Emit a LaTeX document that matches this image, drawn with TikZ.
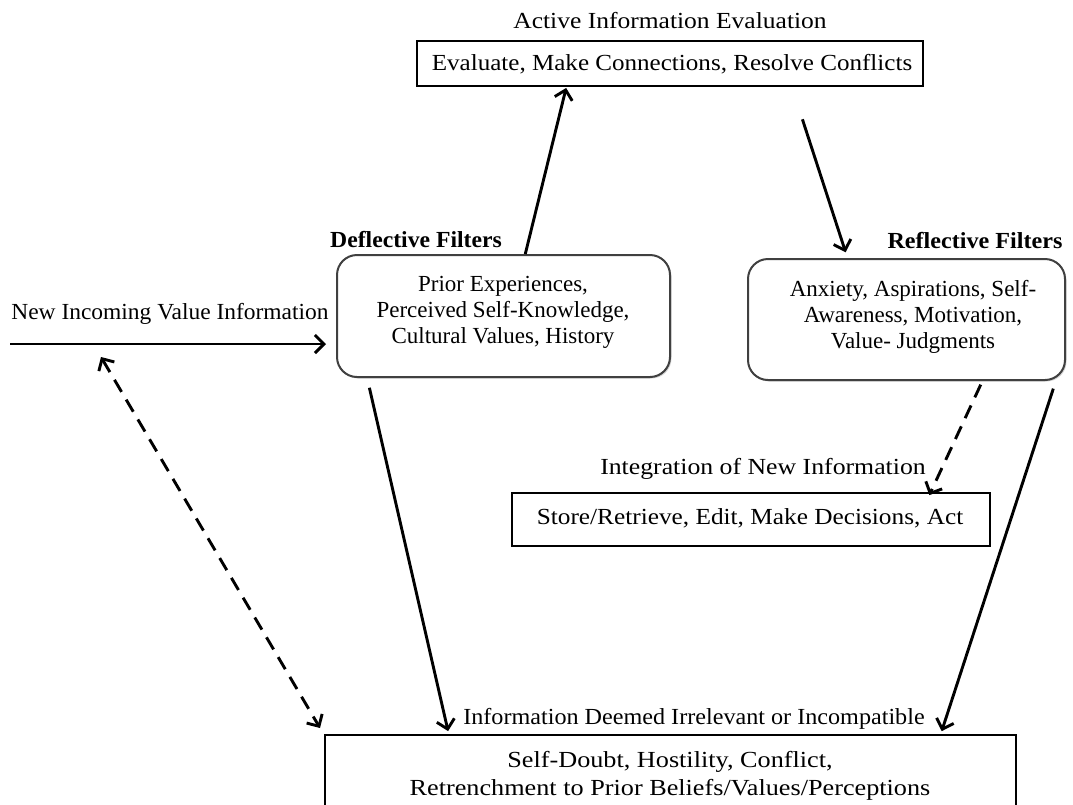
\documentclass[tikz,border=0pt]{standalone}
\usepackage{fontspec}
\usepackage{graphicx}
\setmainfont{Liberation Serif}
\usetikzlibrary{arrows.meta,calc,shadows}
\newcommand{\sx}[2]{\scalebox{#1}[1]{#2}}
\newcommand{\lines}[1]{\begin{tabular}{@{}c@{}}#1\end{tabular}}
\begin{document}
\begin{tikzpicture}[x=1pt,y=-1pt,
  every node/.style={font=\fontsize{23}{26}\selectfont, inner sep=0pt},
  box/.style={draw, line width=2pt},
  rbox/.style={draw=black!75, line width=2pt, rounded corners=20pt, fill=white,
    drop shadow={opacity=0.35, shadow xshift=1.5pt, shadow yshift=-1.5pt}},
  blab/.style={font=\fontsize{23}{26}\selectfont\bfseries},
  tip/.style={-{Straight Barb[length=9pt,width=18pt,line width=2.9pt]}},
  conn/.style={line width=2.9pt, tip},
  dconn/.style={line width=2.9pt, dash pattern=on 14pt off 9pt},
]
\useasboundingbox (0,0) rectangle (1073,804);

% top
\node (toplab) at (670,21) {\sx{1.11}{Active Information Evaluation}};
\node[box, minimum width=506pt, minimum height=45pt] (top) at (670,63.5) {};
\node (toptxt) at (672,64) {\sx{1.09}{Evaluate, Make Connections, Resolve Conflicts}};

% deflective
\node[blab] (deflab) at (416,240) {\sx{1.03}{Deflective Filters}};
\node[rbox, minimum width=333pt, minimum height=122pt] (defl) at (503.5,316) {};
\node (defltxt) at (503,312) {\lines{Prior Experiences,\\Perceived Self-Knowledge,\\Cultural Values, History}};

% reflective
\node[blab] (reflab) at (975,241) {\sx{1.05}{Reflective Filters}};
\node[rbox, minimum width=317pt, minimum height=121pt] (refl) at (906.5,319.5) {};
\node (refltxt) at (913,317) {\lines{Anxiety, Aspirations, Self-\\Awareness, Motivation,\\Value- Judgments}};

% incoming
\node (newlab) at (170,314) {\sx{1.02}{New Incoming Value Information}};
\coordinate (inc) at (10,344);
\coordinate (dtip) at (101,357);

% integration
\node (intlab) at (763,469) {\sx{1.12}{Integration of New Information}};
\node[box, minimum width=478pt, minimum height=53pt] (store) at (751,519) {};
\node (storetxt) at (750,518) {\sx{1.10}{Store/Retrieve, Edit, Make Decisions, Act}};

% bottom
\node (irrlab) at (694,719) {\sx{1.05}{Information Deemed Irrelevant or Incompatible}};
\node[box, minimum width=691pt, minimum height=95pt] (bot) at (670.5,782.5) {};
\node[font=\fontsize{23}{28}\selectfont] (bottxt) at (670,776) {\sx{1.14}{\lines{Self-Doubt, Hostility, Conflict,\\Retrenchment to Prior Beliefs/Values/Perceptions}}};

% connectors
\draw[conn, shorten >=10pt] (inc) -- (inc -| defl.west);
\draw[conn, shorten >=1pt] ($(defl.north west)!0.565!(defl.north east)$) -- ($(top.south west)!0.296!(top.south east)$);
\draw[conn, shorten <=34pt, shorten >=6pt] ($(top.south west)!0.74!(top.south east)$) -- ($(refl.north west)!0.315!(refl.north east)$);
\draw[dconn, tip, shorten <=4pt, shorten >=-4pt] ($(refl.south west)!0.738!(refl.south east)$) -- ($(store.north west)!0.875!(store.north east)$);
\draw[conn, shorten <=8pt, shorten >=3pt] ($(refl.south west)!0.968!(refl.south east)$) -- ($(bot.north west)!0.89!(bot.north east)$);
\draw[conn, shorten <=10pt, shorten >=3pt] ($(defl.south west)!0.093!(defl.south east)$) -- ($(bot.north west)!0.18!(bot.north east)$);
\draw[dconn, {Straight Barb[length=9pt,width=18pt,line width=2.9pt]}-{Straight Barb[length=9pt,width=18pt,line width=2.9pt]}] (dtip) -- ($(bot.north west)+(-4,-6)$);
\end{tikzpicture}
\end{document}
